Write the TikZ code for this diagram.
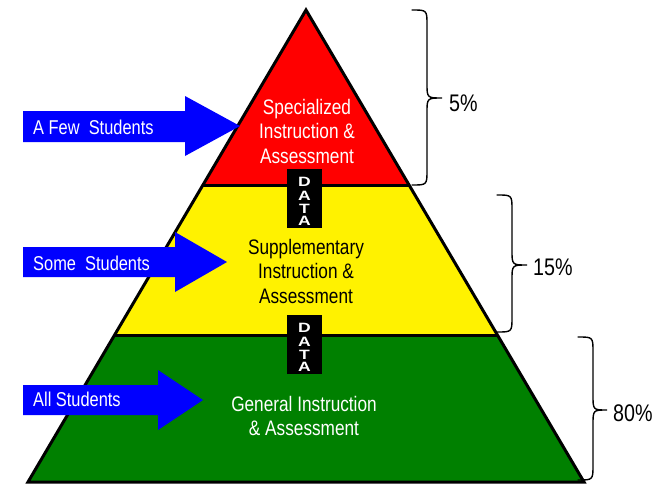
\documentclass[tikz,border=0pt]{standalone}
\usepackage{fontspec}
\setmainfont{Liberation Sans}[FakeStretch=0.82]
\newfontfamily\datafont{Liberation Sans}[FakeStretch=1.3]
\begin{document}
\begin{tikzpicture}[x=1pt,y=-1pt,
  tiertext/.style={align=center,font=\fontsize{21}{24.5}\selectfont,inner sep=0pt},
  arrowtext/.style={anchor=west,font=\fontsize{20}{22}\selectfont,text=white,inner sep=0pt},
  pct/.style={anchor=west,font=\fontsize{24}{26}\selectfont,inner sep=0pt},
  databox/.style={fill=black,minimum width=35pt,minimum height=59pt,inner sep=0pt},
  dataletter/.style={text=white,inner sep=0pt,font=\datafont\bfseries\fontsize{13.5}{13.5}\selectfont},
  brace/.style={line width=1.4pt,line cap=round},
  bluearrow/.style={fill=blue}]
\useasboundingbox (0,0) rectangle (665,485);
% tiers
\coordinate (apex) at (306,10);
\coordinate (rl) at (203,185); \coordinate (rr) at (409,185);
\coordinate (yl) at (114.6,335); \coordinate (yr) at (497.4,335);
\coordinate (gl) at (28,482); \coordinate (gr) at (584,482);
\fill[red] (apex) -- (rr) -- (rl) -- cycle;
\fill[yellow] (rl) -- (rr) -- (yr) -- (yl) -- cycle;
\fill[green!50!black] (yl) -- (yr) -- (gr) -- (gl) -- cycle;
\draw[line width=3pt,line join=miter] (apex) -- (gr) -- (gl) -- cycle;
\draw[line width=3pt] (rl) -- (rr);
\draw[line width=3pt] (yl) -- (yr);
% tier texts
\node[tiertext,text=white] (t1) at (307,131) {Specialized\\Instruction \&\\Assessment};
\node[tiertext,text=black] (t2) at (306,271) {Supplementary\\Instruction \&\\Assessment};
\node[tiertext,text=white] (t3) at (304,416) {General Instruction\\\& Assessment};
% data boxes
\node[databox] (d1) at (304.5,198.5) {};
\node[dataletter] (d1a) at ([yshift=17pt]d1.center) {D};
\node[dataletter] (d1b) at ([yshift=3pt]d1.center) {A};
\node[dataletter] (d1c) at ([yshift=-10pt]d1.center) {T};
\node[dataletter] (d1d) at ([yshift=-22.5pt]d1.center) {A};
\node[databox] (d2) at (304.5,344.5) {};
\node[dataletter] (d2a) at ([yshift=17pt]d2.center) {D};
\node[dataletter] (d2b) at ([yshift=3pt]d2.center) {A};
\node[dataletter] (d2c) at ([yshift=-10pt]d2.center) {T};
\node[dataletter] (d2d) at ([yshift=-22.5pt]d2.center) {A};
% arrows
\fill[bluearrow] (23,111) -- (185,111) -- (185,96) -- (240,126) -- (185,156) -- (185,142) -- (23,142) -- cycle;
\node[arrowtext] (a1) at (33,127) {A Few\ \ Students};
\fill[bluearrow] (23,247) -- (175,247) -- (175,232) -- (227,262) -- (175,292) -- (175,277) -- (23,277) -- cycle;
\node[arrowtext] (a2) at (33,263) {Some\ \ Students};
\fill[bluearrow] (23,385) -- (158,385) -- (158,370) -- (203,400) -- (158,430) -- (158,415) -- (23,415) -- cycle;
\node[arrowtext] (a3) at (33,399) {All Students};
% braces
\draw[brace] (412,10) .. controls (427,10) and (427,10) .. (427,25) -- (427,83) .. controls (427,98) and (427,98) .. (442,98) .. controls (427,98) and (427,98) .. (427,113) -- (427,170) .. controls (427,185) and (427,185) .. (412,185);
\node[pct] (p1) at (449,103) {5\%};
\draw[brace] (497,195) .. controls (512,195) and (512,195) .. (512,210) -- (512,250) .. controls (512,265) and (512,265) .. (527,265) .. controls (512,265) and (512,265) .. (512,280) -- (512,317) .. controls (512,332) and (512,332) .. (497,332);
\node[pct] (p2) at (533,267) {15\%};
\draw[brace] (578,337) .. controls (593,337) and (593,337) .. (593,352) -- (593,395) .. controls (593,410) and (593,410) .. (607,410) .. controls (593,410) and (593,410) .. (593,425) -- (593,465) .. controls (593,480) and (593,480) .. (578,480);
\node[pct] (p3) at (613,413) {80\%};
\end{tikzpicture}
\end{document}
